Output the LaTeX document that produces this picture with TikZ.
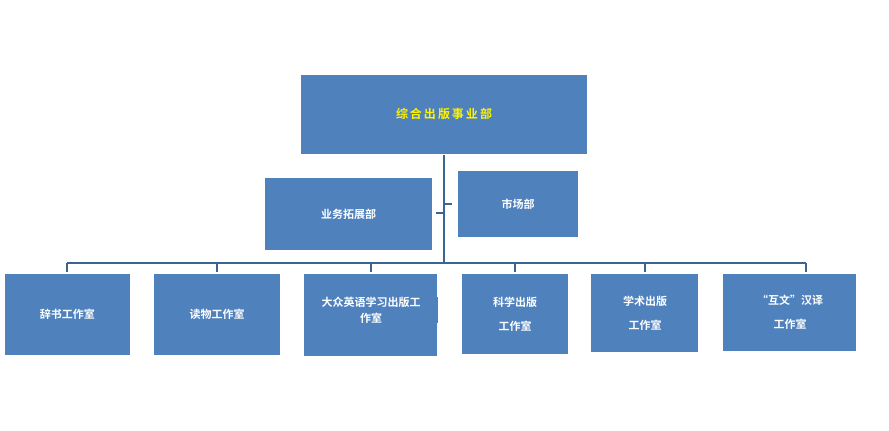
\documentclass[tikz,border=0pt]{standalone}
\usepackage{fontspec}
\newfontfamily\cjk{Noto Sans CJK SC Bold}
\definecolor{boxfill}{HTML}{4F81BD}
\definecolor{lineblue}{HTML}{3A6494}
\begin{document}
\begin{tikzpicture}[x=1pt,y=-1pt,
  box/.style={fill=boxfill,draw=none,text=white,font=\cjk\fontsize{11}{16}\selectfont,align=center,inner sep=0pt},
  conn/.style={draw=lineblue,line width=2.5pt}]
\useasboundingbox (0,0) rectangle (889,431);
\newcommand{\bx}[6]{\fill[boxfill] (#2,#3) rectangle (#4,#5); \node[box,text width={#4-#2}] (#1) at ({(#2+#4)/2},{(#3+#5)/2}) {#6};}
\fill[boxfill] (301,75) rectangle (587,154);
\node[box,text=yellow,font=\cjk\fontsize{12}{16}\selectfont] (top) at (444,114) {综\,合\,出\,版\,事\,业\,部};
\bx{yw}{265}{178}{432}{250}{业务拓展部}
\bx{sc}{458}{171}{578}{237}{市场部}
\bx{a}{5}{274}{130}{355}{辞书工作室}
\bx{b}{154}{274}{280}{355}{读物工作室}
\fill[boxfill] (304,274) rectangle (437,356);
\node[box,text width=134pt] (c) at (371,310) {大众英语学习出版工\\作室};
\fill[boxfill] (462,274) rectangle (568,354);
\node[box,font=\cjk\fontsize{11}{24}\selectfont] (d) at (515,314) {科学出版\\工作室};
\fill[boxfill] (591,274) rectangle (698,352);
\node[box,font=\cjk\fontsize{11}{24}\selectfont] (e) at (645,313) {学术出版\\工作室};
\fill[boxfill] (723,274) rectangle (856,351);
\node[box,font=\cjk\fontsize{11}{24}\selectfont] (f) at (790,312) {“互文”汉译\\工作室};
\coordinate (t0) at (444,155);
\coordinate (t1) at (444,263);
\coordinate (l) at (67,263);
\coordinate (r) at (806,263);
\draw[conn] (t0) -- (t1);
\draw[conn] (l) -- (r);
\draw[conn] (436,213) -- (444,213);
\draw[conn] (444,204) -- (452,204);
\foreach \xx in {67,217,371,515,645,806}{\draw[conn] (\xx,263) -- (\xx,272);}
\end{tikzpicture}
\end{document}
